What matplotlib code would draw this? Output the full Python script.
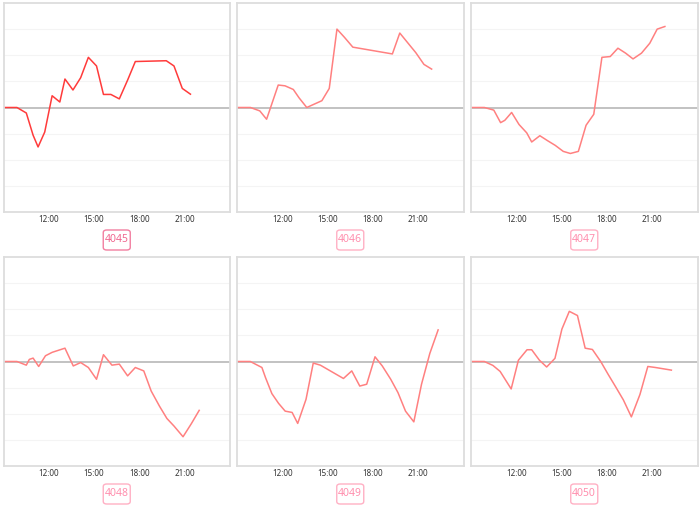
import matplotlib.pyplot as plt
from matplotlib.patches import FancyBboxPatch

names = ["4045", "4046", "4047", "4048", "4049", "4050"]

# hours of day and relative change for each series
t1 = [9.0, 9.89, 10.51, 10.96, 11.29, 11.73, 12.22, 12.73, 13.07, 13.6, 14.11, 14.62,
      15.16, 15.62, 16.11, 16.67, 17.22, 17.73, 19.78, 20.29, 20.84, 21.38]
v1 = [0, 0, -0.21, -1.06, -1.51, -0.94, 0.45, 0.21, 1.09, 0.67, 1.14, 1.92,
      1.59, 0.5, 0.5, 0.33, 1.05, 1.76, 1.79, 1.59, 0.73, 0.51]

t2 = [9.0, 9.89, 10.51, 10.96, 11.73, 12.18, 12.73, 13.11, 13.62, 14.62, 15.11, 15.62,
      16.11, 16.67, 19.29, 19.78, 20.33, 20.84, 21.38, 21.89]
v2 = [0, 0, -0.13, -0.45, 0.86, 0.83, 0.69, 0.37, 0, 0.26, 0.73, 3.0,
      2.69, 2.31, 2.05, 2.85, 2.46, 2.1, 1.65, 1.47]

t3 = [9.0, 9.89, 10.51, 10.96, 11.24, 11.69, 12.18, 12.69, 13.02, 13.56, 14.07, 14.58,
      15.11, 15.58, 16.11, 16.62, 17.13, 17.67, 18.22, 18.73, 19.24, 19.73, 20.29,
      20.84, 21.33, 21.84]
v3 = [0, 0, -0.1, -0.58, -0.49, -0.19, -0.65, -0.97, -1.32, -1.08, -1.27, -1.45,
      -1.68, -1.76, -1.68, -0.68, -0.26, 1.92, 1.95, 2.27, 2.08, 1.86, 2.08,
      2.46, 3.0, 3.1]

t4 = [9.0, 9.89, 10.51, 10.71, 10.96, 11.33, 11.78, 12.22, 13.07, 13.62, 14.11, 14.62,
      15.16, 15.62, 16.18, 16.67, 17.22, 17.73, 18.29, 18.78, 19.33, 19.82, 20.29,
      20.89, 21.44, 21.96]
v4 = [0, 0, -0.14, 0.08, 0.13, -0.19, 0.22, 0.35, 0.51, -0.17, -0.04, -0.23,
      -0.68, 0.26, -0.14, -0.1, -0.55, -0.23, -0.36, -1.13, -1.71, -2.18, -2.47,
      -2.88, -2.38, -1.87]

t5 = [9.0, 9.88, 10.65, 10.89, 11.31, 11.75, 12.19, 12.65, 13.02, 13.57, 14.05, 14.52,
      16.05, 16.6, 17.13, 17.59, 18.14, 18.62, 19.18, 19.66, 20.16, 20.71, 21.22,
      21.77, 22.32]
v5 = [0, 0, -0.23, -0.62, -1.23, -1.6, -1.9, -1.95, -2.37, -1.45, -0.06, -0.14,
      -0.65, -0.36, -0.94, -0.87, 0.18, -0.17, -0.68, -1.19, -1.9, -2.31, -0.87,
      0.31, 1.21]

t6 = [9.0, 9.88, 10.45, 10.93, 11.66, 12.14, 12.71, 13.02, 13.53, 14.01, 14.56, 15.02,
      15.51, 16.05, 16.56, 17.04, 17.59, 18.08, 18.58, 19.09, 19.62, 20.19, 20.71,
      21.22, 22.27]
v6 = [0, 0, -0.15, -0.38, -1.05, 0.05, 0.45, 0.45, 0.05, -0.21, 0.12, 1.24,
      1.92, 1.76, 0.51, 0.46, 0, -0.49, -0.97, -1.47, -2.12, -1.26, -0.19,
      -0.23, -0.33]

times = [t1, t2, t3, t4, t5, t6]
vals = [v1, v2, v3, v4, v5, v6]
xticks = [12, 15, 18, 21]
xlabels = ["12:00", "15:00", "18:00", "21:00"]

W, H = 700, 509
fig = plt.figure(figsize=(7, 5.09), dpi=100)

lefts = [3.5, 237, 471]
tops = [3, 257]
aw, ah = 226.5, 209

for i in range(6):
    r, c = divmod(i, 3)
    l = lefts[c]
    t = tops[r]
    ax = fig.add_axes([l / W, (H - t - ah) / H, aw / W, ah / H])
    ax.set_xlim(9, 24)
    ax.set_ylim(-4, 4)
    for y in [-3, -2, -1, 1, 2, 3]:
        ax.axhline(y, color="#f4f4f4", lw=0.8, zorder=0)
    ax.axhline(0, color="#b8b8b8", lw=1.2, zorder=1)
    col = "#ff3b3b" if i == 0 else "#ff8080"
    ax.plot(times[i], vals[i], color=col, lw=1.1, zorder=2)
    ax.set_yticks([])
    ax.set_xticks(xticks)
    ax.set_xticklabels(xlabels, fontsize=5.8, color="#333333", family="Noto Sans")
    ax.tick_params(axis="x", length=0, pad=2.5)
    for s in ax.spines.values():
        s.set_color("#dddddd")
        s.set_linewidth(1.3)

    # label box under each panel
    cx = l + aw / 2
    cy = t + ah + 28
    ec = "#f27ea0" if i == 0 else "#ffb0c4"
    tc = "#f06890" if i == 0 else "#ff8fae"
    bw, bh = 27, 20
    box = FancyBboxPatch(((cx - bw / 2) / W, (H - cy - bh / 2) / H), bw / W, bh / H,
                         boxstyle="round,pad=0,rounding_size=0.005",
                         transform=fig.transFigure, fc="white", ec=ec, lw=1.0)
    fig.patches.append(box)
    fig.text(cx / W, (H - cy) / H, names[i], ha="center", va="center",
             fontsize=7.5, color=tc, family="Noto Sans")

fig.savefig("out.png", dpi=100)
